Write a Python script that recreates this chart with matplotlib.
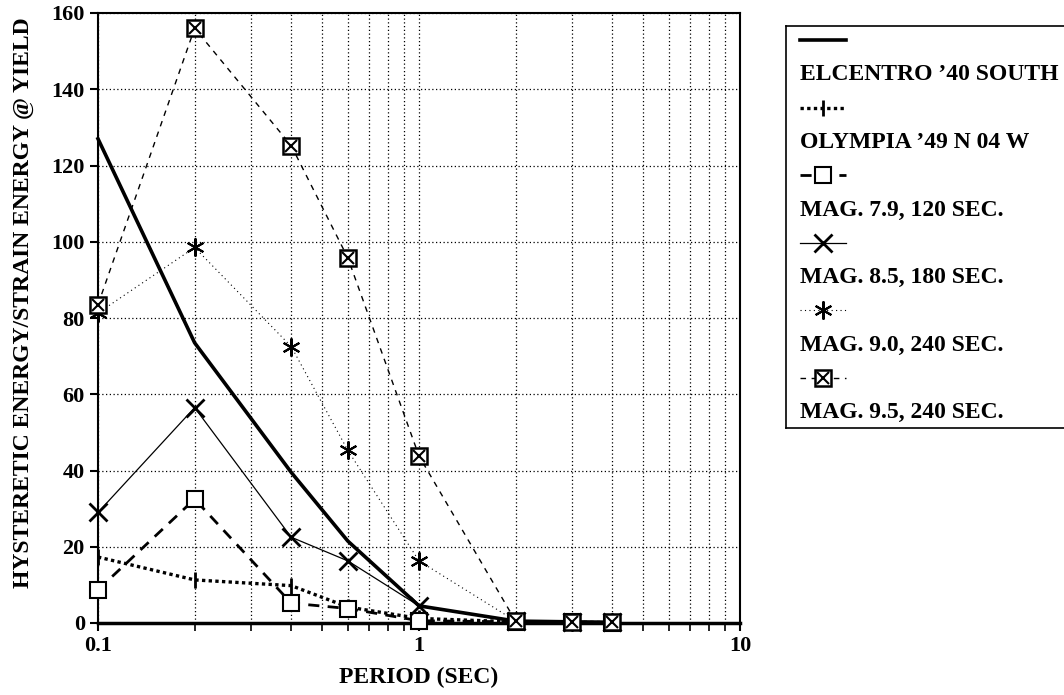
import numpy as np
import matplotlib
matplotlib.use("Agg")
import matplotlib.pyplot as plt
from matplotlib.lines import Line2D

plt.rcParams['font.family'] = ['Liberation Serif', 'DejaVu Serif']
plt.rcParams['font.weight'] = 'bold'

# period values (sec)
period = [0.1, 0.2, 0.4, 0.6, 1.0, 2.0, 3.0, 4.0]

# hysteretic energy / strain energy at yield
elcentro = [127, 73.5, 39.5, 21.5, 4.5, 0.5, 0.3, 0.2]
olympia = [17.3, 11.3, 9.8, 4.2, 1.2, 0.3, 0.2, 0.1]
mag79 = [8.7, 32.5, 5.2, 3.8, 0.6, 0.3, 0.2, 0.1]
mag85 = [29, 56.5, 22.5, 16.3, 4.5, 0.5, 0.3, 0.2]
mag90 = [81.3, 98.5, 72.5, 45.3, 16.3, 0.5, 0.3, 0.2]
mag95 = [83.5, 156, 125.2, 95.8, 43.8, 0.5, 0.3, 0.2]

labels = ["ELCENTRO \u201940 SOUTH", "OLYMPIA \u201949 N 04 W", "MAG. 7.9, 120 SEC.",
          "MAG. 8.5, 180 SEC.", "MAG. 9.0, 240 SEC.", "MAG. 9.5, 240 SEC."]

fig = plt.figure(figsize=(10.64, 6.95), dpi=100)
ax = fig.add_axes([98/1064, 72/695, 642/1064, 610/695])

# series styles
styles = [
    dict(color='black', lw=2.6, ls='-', marker=None),
    dict(color='black', lw=2.4, ls=(0, (1, 1)), marker='|', ms=12, mew=2),
    dict(color='black', lw=2.0, ls=(0, (4, 3)), marker='s', ms=11, mfc='white', mew=1.5),
    dict(color='black', lw=0.9, ls='-', marker='x', ms=13, mew=2),
    dict(color='black', lw=0.8, ls=(0, (1, 3)), marker=(6, 2, 0), ms=13, mew=1.5),
    dict(color='black', lw=1.0, ls=(0, (4, 4)), marker='s', ms=11, mfc='white', mew=1.8),
]
series = [elcentro, olympia, mag79, mag85, mag90, mag95]

for vals, st in zip(series, styles):
    ax.plot(period, vals, **st, clip_on=False, zorder=3)
# cross inside the squares of the last series
ax.plot(period, mag95, ls='none', marker='x', ms=8, mew=1.5, color='black', clip_on=False, zorder=4)

ax.set_xscale('log')
ax.set_xlim(0.1, 10)
ax.set_ylim(0, 160)
ax.set_yticks(np.arange(0, 161, 20))
ax.set_xticks([0.1, 1, 10])
ax.set_xticklabels(['0.1', '1', '10'])
ax.tick_params(axis='both', which='major', direction='out', length=6, width=1.5, labelsize=16)
ax.tick_params(axis='x', which='minor', direction='out', length=6, width=1.2)
ax.minorticks_on()
ax.yaxis.set_minor_locator(matplotlib.ticker.NullLocator())
ax.grid(True, which='both', axis='x', color='black', ls=(0, (1, 2)), lw=0.9)
ax.grid(True, which='major', axis='y', color='black', ls=(0, (1, 2)), lw=0.9)
for s in ax.spines.values():
    s.set_linewidth(1.5)
ax.spines['bottom'].set_linewidth(2.5)

ax.set_xlabel("PERIOD (SEC)", fontsize=17, fontweight='bold', labelpad=8)
ax.set_ylabel("HYSTERETIC ENERGY/STRAIN ENERGY @ YIELD", fontsize=17, fontweight='bold')
ax.yaxis.set_label_coords(-0.099, 0.525)

# legend box: handle line above each label
lax = fig.add_axes([786/1064, (695-428)/695, 1 - 786/1064 + 0.01, 402/695])
lax.set_xlim(786, 1075)
lax.set_ylim(428, 26)
lax.set_xticks([])
lax.set_yticks([])
lax.spines['right'].set_visible(False)
for s in ['left', 'top', 'bottom']:
    lax.spines[s].set_linewidth(1.2)

y0 = 40
step = 67.5
for i, (st, lab) in enumerate(zip(styles, labels)):
    yh = y0 + i * step
    lax.add_line(Line2D([800, 823, 846], [yh, yh, yh], markevery=[1], **st))
    if i == 5:
        lax.add_line(Line2D([823], [yh], ls='none', marker='x', ms=8, mew=1.5, color='black'))
    lax.text(800, yh + 35, lab, fontsize=17, fontweight='bold', va='center', ha='left')

fig.savefig("out.png", dpi=100)
